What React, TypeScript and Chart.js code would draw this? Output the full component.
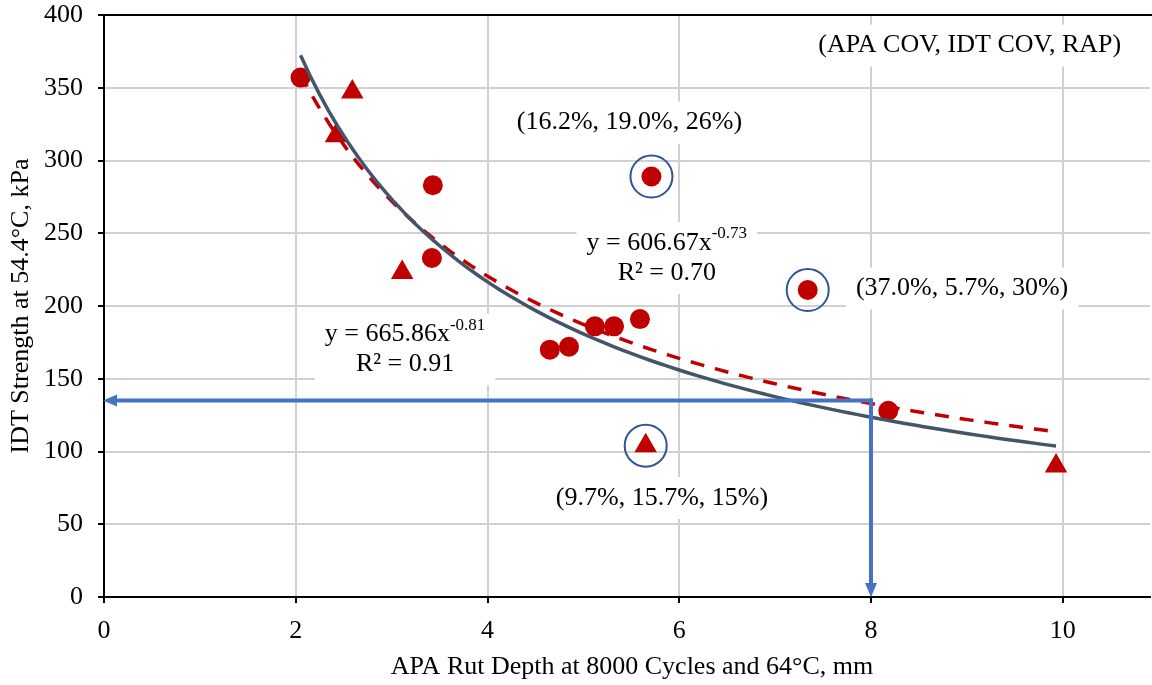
import { useEffect, useRef } from "react";
import { Chart, registerables } from "chart.js";
Chart.register(...registerables);

// Measured data (APA rut depth mm, IDT strength kPa)
const circleX = [2.05, 3.43, 3.42, 4.65, 4.85, 5.12, 5.32, 5.59, 5.71, 7.34, 8.18];
const circleY = [357, 283, 233, 170, 172, 186, 186, 191, 289, 211, 128];
const triangleX = [2.59, 2.42, 3.11, 5.65, 9.93];
const triangleY = [347, 317, 223, 104, 90];
// Highlighted (circled) points
const highlightX = [5.71, 7.34, 5.65];
const highlightY = [289, 211, 104];
// Power trend lines y = a x^b as printed on the chart
const trendA = [665.86, 606.67];
const trendB = [-0.81, -0.73];
const trendRange = [2.05, 9.93];
// Design arrows
const arrowH_X = [8, 0];
const arrowH_Y = [135, 135];
const arrowV_X = [8, 8];
const arrowV_Y = [135, 0];
// Tick settings
const xTicks = [0, 2, 4, 6, 8, 10];
const yTicks = [0, 50, 100, 150, 200, 250, 300, 350, 400];

const FONT = "'Liberation Serif', 'Times New Roman', serif";
const RED = "#C00000";

function trendPoints(a: number, b: number) {
  const pts: { x: number; y: number }[] = [];
  const n = 80;
  for (let i = 0; i <= n; i++) {
    const x = trendRange[0] + ((trendRange[1] - trendRange[0]) * i) / n;
    pts.push({ x, y: a * Math.pow(x, b) });
  }
  return pts;
}

const zip = (xs: number[], ys: number[]) => xs.map((x, i) => ({ x, y: ys[i] }));

type Label = { x: number; y: number; lines: { main: string; sup?: string }[] };
const labels: Label[] = [
  { x: 9.03, y: 379, lines: [{ main: "(APA COV, IDT COV, RAP)" }] },
  { x: 5.48, y: 326, lines: [{ main: "(16.2%, 19.0%, 26%)" }] },
  { x: 5.87, y: 233, lines: [{ main: "y = 606.67x", sup: "-0.73" }, { main: "R² = 0.70" }] },
  { x: 8.95, y: 212, lines: [{ main: "(37.0%, 5.7%, 30%)" }] },
  { x: 3.14, y: 170, lines: [{ main: "y = 665.86x", sup: "-0.81" }, { main: "R² = 0.91" }] },
  { x: 5.82, y: 68, lines: [{ main: "(9.7%, 15.7%, 15%)" }] },
];

const MAIN_SIZE = 26;
const SUP_SIZE = 17;
const LINE_H = 30;

const overlayPlugin = {
  id: "overlay",
  beforeDatasetsDraw(chart: any) {
    const ctx = chart.ctx;
    const xs = chart.scales.x;
    const ys = chart.scales.y;
    ctx.save();
    for (const lb of labels) {
      const cx = xs.getPixelForValue(lb.x);
      const cy = ys.getPixelForValue(lb.y);
      const widths = lb.lines.map((ln) => {
        ctx.font = `${MAIN_SIZE}px ${FONT}`;
        let w = ctx.measureText(ln.main).width;
        if (ln.sup) {
          ctx.font = `${SUP_SIZE}px ${FONT}`;
          w += ctx.measureText(ln.sup).width;
        }
        return w;
      });
      const maxW = Math.max(...widths);
      const h = lb.lines.length * LINE_H;
      ctx.fillStyle = "#FFFFFF";
      ctx.fillRect(cx - maxW / 2 - 10, cy - h / 2 - 6, maxW + 20, h + 12);
      lb.lines.forEach((ln, i) => {
        const ly = cy - h / 2 + LINE_H * (i + 0.5);
        let lx = cx - widths[i] / 2;
        ctx.fillStyle = "#000000";
        ctx.textBaseline = "middle";
        ctx.textAlign = "left";
        ctx.font = `${MAIN_SIZE}px ${FONT}`;
        ctx.fillText(ln.main, lx, ly);
        if (ln.sup) {
          lx += ctx.measureText(ln.main).width;
          ctx.font = `${SUP_SIZE}px ${FONT}`;
          ctx.fillText(ln.sup, lx, ly - 9);
        }
      });
    }
    ctx.restore();
  },
  afterDraw(chart: any) {
    const ctx = chart.ctx;
    const { left, top, bottom } = chart.chartArea;
    const xs = chart.scales.x;
    const ys = chart.scales.y;
    ctx.save();
    // top frame line
    ctx.strokeStyle = "#000000";
    ctx.lineWidth = 2;
    ctx.beginPath();
    ctx.moveTo(left - 1, top);
    ctx.lineTo(chart.width, top);
    ctx.stroke();
    // arrow heads
    ctx.fillStyle = "#4472C4";
    const hx = xs.getPixelForValue(arrowH_X[1]);
    const hy = ys.getPixelForValue(arrowH_Y[1]);
    ctx.beginPath();
    ctx.moveTo(hx - 1, hy);
    ctx.lineTo(hx + 13, hy - 6);
    ctx.lineTo(hx + 13, hy + 6);
    ctx.closePath();
    ctx.fill();
    const vx = xs.getPixelForValue(arrowV_X[1]);
    const vy = ys.getPixelForValue(arrowV_Y[1]);
    ctx.beginPath();
    ctx.moveTo(vx, vy);
    ctx.lineTo(vx - 6, vy - 14);
    ctx.lineTo(vx + 6, vy - 14);
    ctx.closePath();
    ctx.fill();
    // titles
    ctx.fillStyle = "#000000";
    ctx.font = `${MAIN_SIZE}px ${FONT}`;
    ctx.textAlign = "center";
    ctx.textBaseline = "middle";
    ctx.fillText("APA Rut Depth at 8000 Cycles and 64°C, mm", 632, 667);
    ctx.translate(21, (top + bottom) / 2);
    ctx.rotate(-Math.PI / 2);
    ctx.fillText("IDT Strength at 54.4°C, kPa", 0, 0);
    ctx.restore();
  },
};

export default function App() {
  const ref = useRef<HTMLCanvasElement | null>(null);
  useEffect(() => {
    if (!ref.current) return;
    const chart = new Chart(ref.current, {
      type: "scatter",
      data: {
        datasets: [
          {
            label: "Arrow H",
            type: "line",
            data: zip(arrowH_X, arrowH_Y).map((p, i) => (i === 1 ? { x: p.x + 0.12, y: p.y } : p)),
            borderColor: "#4472C4",
            borderWidth: 4,
            borderCapStyle: "square",
            pointRadius: 0,
            order: 1,
          } as any,
          {
            label: "Arrow V",
            type: "line",
            data: zip(arrowV_X, arrowV_Y).map((p, i) => (i === 1 ? { x: p.x, y: p.y + 8 } : p)),
            borderColor: "#4472C4",
            borderWidth: 4,
            borderCapStyle: "square",
            pointRadius: 0,
            order: 1,
          } as any,
          {
            label: "Highlight",
            data: zip(highlightX, highlightY),
            pointStyle: "circle",
            pointRadius: 21,
            pointHoverRadius: 21,
            backgroundColor: "rgba(0,0,0,0)",
            borderColor: "#2F5597",
            borderWidth: 2,
            order: 2,
          },
          {
            label: "Fit 1",
            type: "line",
            data: trendPoints(trendA[0], trendB[0]),
            borderColor: "#44546A",
            borderWidth: 3.5,
            pointRadius: 0,
            tension: 0,
            order: 3,
          } as any,
          {
            label: "Fit 2",
            type: "line",
            data: trendPoints(trendA[1], trendB[1]),
            borderColor: RED,
            borderWidth: 3.5,
            borderDash: [14, 11],
            pointRadius: 0,
            tension: 0,
            order: 4,
          } as any,
          {
            label: "Circles",
            data: zip(circleX, circleY),
            pointStyle: "circle",
            pointRadius: 10,
            backgroundColor: RED,
            borderColor: RED,
            borderWidth: 0,
            order: 5,
          },
          {
            label: "Triangles",
            data: zip(triangleX, triangleY),
            pointStyle: "triangle",
            pointRadius: 13,
            backgroundColor: RED,
            borderColor: RED,
            borderWidth: 0,
            order: 5,
          },
        ],
      },
      options: {
        animation: false,
        responsive: false,
        devicePixelRatio: 1,
        layout: { autoPadding: false, padding: { top: 15, right: 2, left: 0, bottom: 0 } },
        plugins: { legend: { display: false }, tooltip: { enabled: false } },
        scales: {
          x: {
            type: "linear",
            min: 0,
            max: 10.91,
            afterBuildTicks: (s: any) => {
              s.ticks = xTicks.map((v) => ({ value: v }));
            },
            afterFit: (s: any) => {
              s.height = 88;
              s.paddingLeft = 0;
              s.paddingRight = 0;
            },
            ticks: { font: { family: FONT, size: MAIN_SIZE }, color: "#000", padding: 13 },
            grid: { color: "#D0D0D0", lineWidth: 2, tickColor: "#000", tickLength: 6, tickWidth: 2 },
            border: { color: "#000", width: 2 },
          },
          y: {
            type: "linear",
            min: 0,
            max: 400,
            afterBuildTicks: (s: any) => {
              s.ticks = yTicks.map((v) => ({ value: v }));
            },
            afterFit: (s: any) => {
              s.width = 104;
              s.paddingTop = 0;
              s.paddingBottom = 0;
            },
            ticks: { font: { family: FONT, size: MAIN_SIZE }, color: "#000", padding: 15 },
            grid: { color: "#D0D0D0", lineWidth: 2, tickColor: "#000", tickLength: 6, tickWidth: 2 },
            border: { color: "#000", width: 2 },
          },
        },
      },
      plugins: [overlayPlugin],
    });
    return () => chart.destroy();
  }, []);
  return (
    <div style={{ position: "absolute", left: 0, top: 0, width: 1152, height: 685, background: "#fff" }}>
      <canvas ref={ref} width={1152} height={685} />
    </div>
  );
}
